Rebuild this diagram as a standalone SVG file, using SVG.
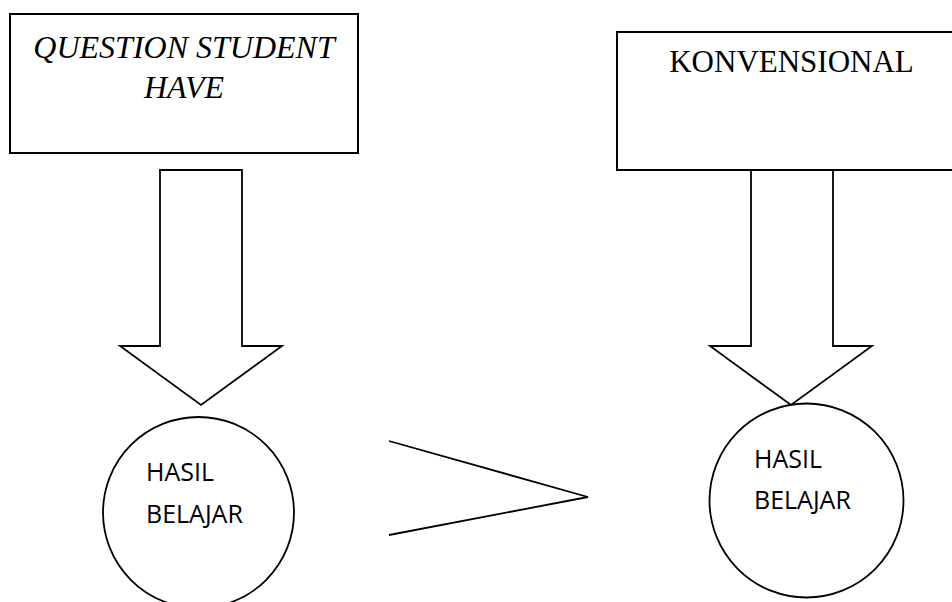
<svg xmlns="http://www.w3.org/2000/svg" width="952" height="602" viewBox="0 0 952 602">
<style>
.box{fill:#fff;stroke:#000;stroke-width:2}
.arrow{fill:#fff;stroke:#000;stroke-width:1.8;stroke-linejoin:miter}
.circ{fill:#fff;stroke:#000;stroke-width:1.8}
.ser{font-family:"Liberation Serif","Times New Roman",serif;fill:#000}
.sans{font-family:"Open Sans","Noto Sans",sans-serif;font-size:25px;fill:#000}
.conn{fill:none;stroke:#000;stroke-width:1.8}
</style>
<rect width="952" height="602" fill="#fff"/>
<g id="box-question">
<rect class="box" x="10" y="14" width="348" height="139"/>
<text class="ser" x="184" y="58" font-size="32" font-style="italic" text-anchor="middle">QUESTION STUDENT</text>
<text class="ser" x="184" y="98" font-size="32" font-style="italic" text-anchor="middle">HAVE</text>
</g>
<g id="box-konvensional">
<rect class="box" x="617" y="32" width="349" height="138"/>
<text class="ser" x="791.5" y="72" font-size="31" text-anchor="middle">KONVENSIONAL</text>
</g>
<g id="arrow-left">
<polygon class="arrow" points="160,170 242,170 242,346 282,346 201,405 120,346 160,346"/>
</g>
<g id="arrow-right">
<polygon class="arrow" points="751,170 833,170 833,346 872,346 791,405 710,346 751,346"/>
</g>
<g id="circle-left">
<circle class="circ" cx="198.5" cy="512.5" r="95.5"/>
<text class="sans" x="146" y="481">HASIL</text>
<text class="sans" x="146" y="523">BELAJAR</text>
</g>
<g id="circle-right">
<circle class="circ" cx="806.5" cy="500.5" r="97"/>
<text class="sans" x="754" y="468">HASIL</text>
<text class="sans" x="754" y="509">BELAJAR</text>
</g>
<g id="connectors">
<polyline class="conn" points="389,441 588,497 389,535"/>
</g>
</svg>
